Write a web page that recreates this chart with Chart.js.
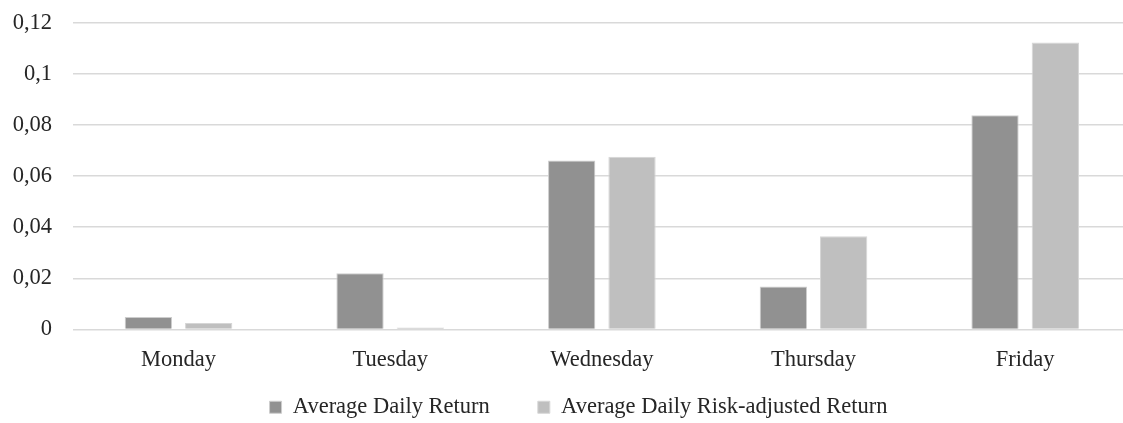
<!DOCTYPE html>
<html>
<head>
<meta charset="utf-8">
<script src="https://cdn.jsdelivr.net/npm/chart.js@4.4.1/dist/chart.umd.min.js"></script>
<style>
  html, body { margin: 0; padding: 0; background: #ffffff; overflow: hidden; }
  #wrap { width: 1131px; height: 454px; }
</style>
</head>
<body>
<div id="wrap"><canvas id="chart" width="1131" height="454"></canvas></div>
<script>
// Weekday categories
const days = ['Monday', 'Tuesday', 'Wednesday', 'Thursday', 'Friday'];

// Series values
const averageDailyReturn = [0.0049, 0.0220, 0.0661, 0.0168, 0.0838];
const riskAdjustedReturn = [0.0025, 0.0008, 0.0676, 0.0365, 0.1123];

// Series names
const seriesNames = ['Average Daily Return', 'Average Daily Risk-adjusted Return'];

// Value axis ticks and their labels (decimal comma)
const yTickValues = [0, 0.02, 0.04, 0.06, 0.08, 0.1, 0.12];
const yTickLabels = ['0', '0,02', '0,04', '0,06', '0,08', '0,1', '0,12'];

const textColor = '#262626';
const fontSize = 22.5;

Chart.defaults.font.family = "'Liberation Serif', 'Times New Roman', serif";
Chart.defaults.font.size = fontSize;
Chart.defaults.color = textColor;

// Nudges the bottom legend into place under the plot
const legendPlacement = {
  id: 'legendPlacement',
  afterLayout(chart) {
    const lg = chart.legend;
    if (!lg) return;
    const dx = 13;
    const dy = -25.5;
    lg.left += dx; lg.right += dx;
    lg.top += dy; lg.bottom += dy;
  }
};

new Chart(document.getElementById('chart'), {
  type: 'bar',
  data: {
    labels: days,
    datasets: [
      {
        label: seriesNames[0],
        data: averageDailyReturn,
        backgroundColor: '#919191',
        borderColor: '#cdcdcd',
        borderWidth: 1,
        borderSkipped: 'bottom'
      },
      {
        label: seriesNames[1],
        data: riskAdjustedReturn,
        backgroundColor: '#bfbfbf',
        borderColor: '#d6d6d6',
        borderWidth: 1,
        borderSkipped: 'bottom'
      }
    ]
  },
  plugins: [legendPlacement],
  options: {
    responsive: false,
    devicePixelRatio: 1,
    animation: false,
    datasets: {
      bar: { categoryPercentage: 0.57, barPercentage: 0.784 }
    },
    layout: { padding: { left: 0, top: 22.7, right: 0, bottom: 0 } },
    plugins: {
      legend: {
        position: 'bottom',
        labels: {
          boxWidth: 12,
          boxHeight: 12,
          padding: 48,
          font: { size: fontSize },
          color: textColor
        }
      },
      tooltip: { enabled: false }
    },
    scales: {
      x: {
        grid: { display: false, drawTicks: false },
        border: { display: false },
        ticks: { padding: 17, font: { size: fontSize }, color: textColor },
        afterFit: (scale) => {
          scale.height = 44;
          scale.paddingTop = 0;
          scale.paddingBottom = 0;
        }
      },
      y: {
        min: 0,
        max: 0.12,
        grid: { color: '#d9d9d9', lineWidth: 1.5, drawTicks: false },
        border: { display: false },
        ticks: {
          padding: 20.7,
          font: { size: fontSize },
          color: textColor,
          callback: (value, index) => yTickLabels[index]
        },
        afterBuildTicks: (scale) => {
          scale.ticks = yTickValues.map(v => ({ value: v }));
        },
        afterFit: (scale) => {
          scale.width = 72.7;
          scale.paddingTop = 0;
          scale.paddingBottom = 0;
        }
      }
    }
  }
});
</script>
</body>
</html>
